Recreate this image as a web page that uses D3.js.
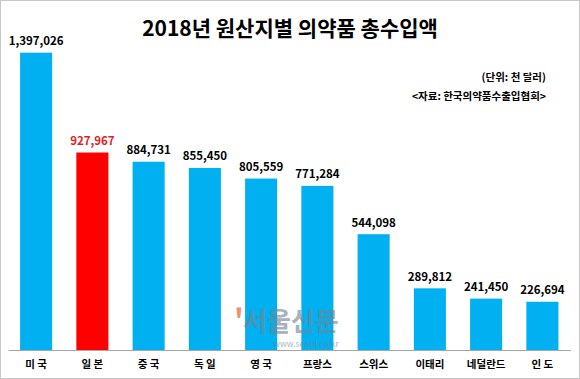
<!DOCTYPE html>
<html><head><meta charset="utf-8">
<script src="https://cdn.jsdelivr.net/npm/d3@7"></script>
<style>html,body{margin:0;padding:0;background:#fff;}svg{display:block;}</style>
</head><body>
<svg id="chart" width="580" height="379"></svg>
<script>
const categories = ["미 국","일 본","중 국","독 일","영 국","프랑스","스위스","이태리","네덜란드","인 도"];
const values = [1397026, 927967, 884731, 855450, 805559, 771284, 544098, 289812, 241450, 226694];
const highlight = ["일 본"];
const title = "2018년 원산지별 의약품 총수입액";
const unitNote = "(단위: 천 달러)";
const sourceNote = "<자료: 한국의약품수출입협회>";

const W = 580, H = 379;
const svg = d3.select("#chart");
const font = "'Noto Sans CJK KR', 'Noto Sans', sans-serif";

svg.append("rect").attr("x",0.5).attr("y",0.5).attr("width",W-1).attr("height",H-1)
  .attr("fill","#fff").attr("stroke","#c8c8c8");

const x = d3.scaleBand().domain(categories).range([8, 570.5]).paddingInner(0.43).paddingOuter(0.215);
const y = d3.scaleLinear().domain([0, d3.max(values)]).range([350, 52.7]);

svg.append("text").attr("x",290).attr("y",36).attr("text-anchor","middle")
  .attr("font-family",font).attr("font-weight","bold").attr("font-size",21)
  .attr("fill","#000").text(title);
svg.append("text").attr("x",546).attr("y",81).attr("text-anchor","end")
  .attr("font-family",font).attr("font-weight","bold").attr("font-size",10.5)
  .attr("fill","#000").text(unitNote);
svg.append("text").attr("x",546).attr("y",100).attr("text-anchor","end")
  .attr("font-family",font).attr("font-weight","bold").attr("font-size",10.5)
  .attr("fill","#000").text(sourceNote);

const data = categories.map((c,i)=>({c, v: values[i]}));

svg.selectAll("rect.bar").data(data).join("rect").attr("class","bar")
  .attr("x", d=>x(d.c)).attr("width", x.bandwidth())
  .attr("y", d=>y(d.v)).attr("height", d=>y(0)-y(d.v))
  .attr("fill", d=>highlight.includes(d.c) ? "#ff0000" : "#00b0f0");

svg.selectAll("text.val").data(data).join("text").attr("class","val")
  .attr("x", d=>x(d.c)+x.bandwidth()/2).attr("y", d=>y(d.v)-7.5)
  .attr("text-anchor","middle").attr("font-family",font).attr("font-weight","bold")
  .attr("font-size",11.5)
  .attr("fill", d=>highlight.includes(d.c) ? "#e0201e" : "#000")
  .text(d=>d3.format(",")(d.v));

// watermark
const wm = svg.append("g").attr("opacity",0.62);
wm.append("text").attr("x",234).attr("y",331).attr("font-family",font).attr("font-weight","bold")
  .attr("font-size",30).attr("fill","#e05020").text("'");
wm.append("text").attr("x",243).attr("y",331).attr("font-family",font).attr("font-weight","bold")
  .attr("font-size",26).attr("fill","#76838f").text("서울신문");
wm.append("text").attr("x",306).attr("y",347).attr("text-anchor","middle").attr("font-family",font)
  .attr("font-size",8.5).attr("fill","#76838f").text("www.seoul.co.kr");

const axis = svg.append("g").attr("transform","translate(0,350)")
  .call(d3.axisBottom(x).tickSize(0).tickPadding(11));
axis.select(".domain").attr("stroke","#a6a6a6").attr("stroke-width",1);
axis.selectAll("text").attr("font-family",font).attr("font-weight","bold")
  .attr("font-size",10.5).attr("fill","#000");
</script>
</body></html>
